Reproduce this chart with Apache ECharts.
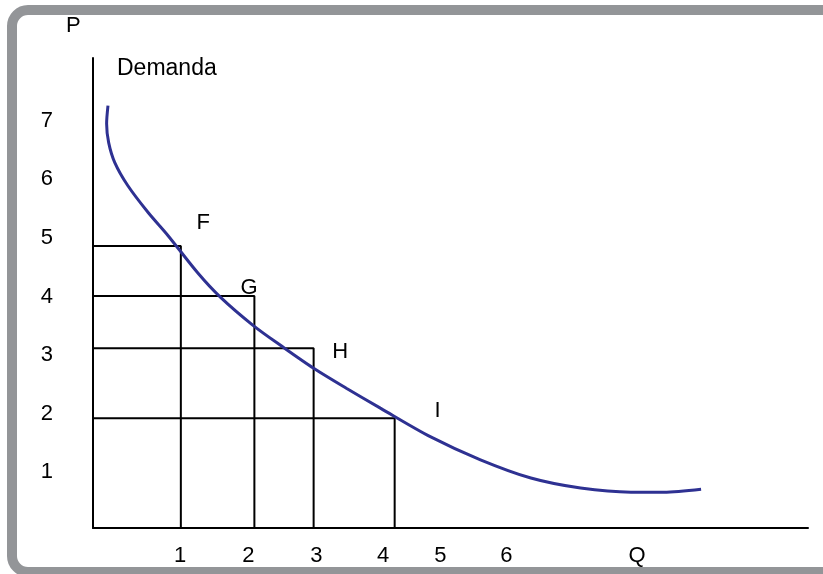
<!DOCTYPE html>
<html>
<head>
<meta charset="utf-8">
<script src="https://cdn.jsdelivr.net/npm/echarts@6/dist/echarts.min.js"></script>
<style>
  html, body { margin: 0; padding: 0; background: #fff; }
  #main { width: 823px; height: 574px; }
</style>
</head>
<body>
<div id="main"></div>
<script>
// curva de demanda (Q, P)
var demandaCurve = [
    [0.22, 7.19], [0.20, 6.88], [0.23, 6.56], [0.32, 6.22], [0.51, 5.83],
    [0.81, 5.37], [1.10, 4.98], [1.54, 4.34], [1.87, 3.93], [2.35, 3.45],
    [2.79, 3.08], [3.24, 2.72], [3.72, 2.38], [4.22, 2.04], [4.96, 1.55],
    [5.69, 1.16], [6.43, 0.85], [7.16, 0.68], [7.90, 0.61], [8.38, 0.61],
    [8.93, 0.66]
];
// puntos F, G, H, I : esquina del rectangulo (Q, P)
var pointNames = ['F', 'G', 'H', 'I'];
var pointCorners = [[1.29, 4.80], [2.37, 3.95], [3.24, 3.06], [4.43, 1.87]];
var pointLabelPos = [[1.62, 5.20], [2.29, 4.08], [3.63, 2.99], [5.06, 1.99]];

var xTickValues = [1.28, 2.28, 3.28, 4.26, 5.10, 6.07, 7.99];
var xTickLabels = ['1', '2', '3', '4', '5', '6', 'Q'];
var yTickValues = [0.95, 1.95, 2.95, 3.94, 4.94, 5.94, 6.93];
var yTickLabels = ['1', '2', '3', '4', '5', '6', '7'];

var font = '"Liberation Sans", Arial, sans-serif';

var myChart = echarts.init(document.getElementById('main'));

var series = [];
pointCorners.forEach(function (c, i) {
    series.push({
        name: pointNames[i],
        type: 'line',
        data: [[0, c[1]], [c[0], c[1]], [c[0], 0]],
        symbol: 'none',
        lineStyle: { color: '#000', width: 2 },
        z: 2,
        silent: true
    });
});
series.push({
    name: 'Demanda',
    type: 'line',
    data: demandaCurve,
    smooth: 0.3,
    symbol: 'none',
    lineStyle: { color: '#2e3192', width: 3 },
    z: 3
});
series.push({
    type: 'scatter',
    data: pointLabelPos.map(function (p, i) { return { name: pointNames[i], value: p }; }),
    symbolSize: 0,
    itemStyle: { opacity: 1 },
    label: {
        show: true,
        position: 'inside',
        formatter: '{b}',
        color: '#000',
        opacity: 1,
        fontSize: 22,
        fontFamily: font
    },
    emphasis: { disabled: true },
    z: 4
});

var option = {
    animation: false,
    grid: { left: 93, right: 15, top: 58, bottom: 46 },
    xAxis: {
        type: 'value',
        min: 0,
        max: 10.5,
        axisLine: { show: true, lineStyle: { color: '#000', width: 2 } },
        axisTick: { show: false },
        splitLine: { show: false },
        axisLabel: {
            customValues: xTickValues,
            formatter: function (v) {
                var i = xTickValues.indexOf(v);
                return i >= 0 ? xTickLabels[i] : '';
            },
            margin: 17,
            color: '#000',
            fontSize: 22,
            fontFamily: font
        }
    },
    yAxis: {
        type: 'value',
        min: 0,
        max: 8,
        axisLine: { show: true, lineStyle: { color: '#000', width: 2 } },
        axisTick: { show: false },
        splitLine: { show: false },
        axisLabel: {
            customValues: yTickValues,
            formatter: function (v) {
                var i = yTickValues.indexOf(v);
                return i >= 0 ? yTickLabels[i] : '';
            },
            margin: 40,
            color: '#000',
            fontSize: 22,
            fontFamily: font
        }
    },
    graphic: [
        {
            type: 'rect',
            shape: { x: 12, y: 10, width: 840, height: 562, r: 16 },
            style: { fill: 'none', stroke: '#939598', lineWidth: 10 },
            silent: true
        },
        {
            type: 'text', left: 66, top: 15,
            style: { text: 'P', fill: '#000', font: '22px ' + font }
        },
        {
            type: 'text', left: 117, top: 57,
            style: { text: 'Demanda', fill: '#000', font: '23px ' + font }
        }
    ],
    series: series
};

myChart.setOption(option);
</script>
</body>
</html>
